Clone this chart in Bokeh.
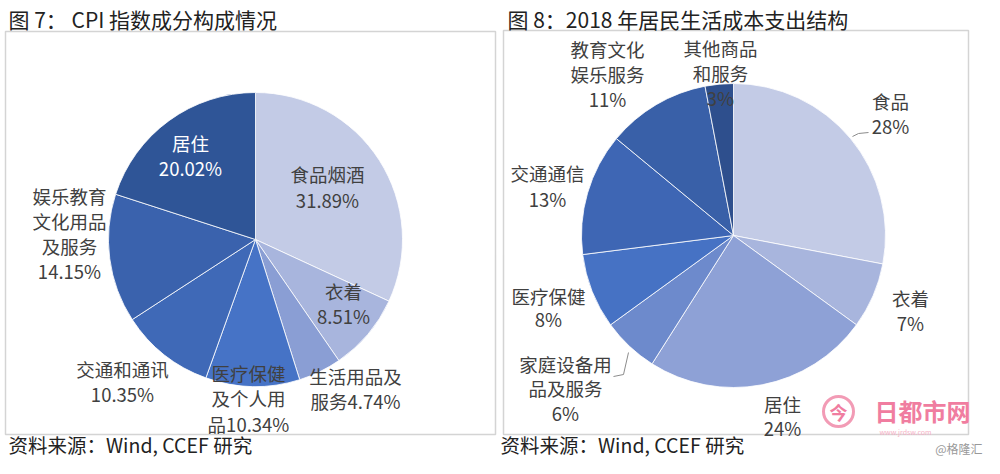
import math
from bokeh.plotting import figure
from bokeh.models import Range1d
from bokeh.core.properties import value
from bokeh.embed import file_html
from bokeh.resources import INLINE

# ---------------- data ----------------
cpi_names = ["食品烟酒", "衣着", "生活用品及服务", "医疗保健及个人用品",
             "交通和通讯", "娱乐教育文化用品及服务", "居住"]
cpi_values = [31.89, 8.51, 4.74, 10.34, 10.35, 14.15, 20.02]

cost_names = ["食品", "衣着", "居住", "家庭设备用品及服务", "医疗保健",
              "交通通信", "教育文化娱乐服务", "其他商品和服务"]
cost_values = [28, 7, 24, 6, 8, 13, 11, 3]

title_left = "图 7：   CPI 指数成分构成情况"
title_right = "图 8：2018 年居民生活成本支出结构"
source_text = "资料来源：Wind, CCEF 研究"

# ---------------- styling / layout ----------------
cpi_colors = ["#c3cbe6", "#a8b5dd", "#8a9ed4", "#4673c6", "#3f69b7", "#3a62ad", "#2f5597"]
cost_colors = ["#c3cbe6", "#a8b5dd", "#8ea1d6", "#6d8acc", "#4672c4", "#3e66b4", "#3960a8", "#2e4f8d"]

FONT = value("Noto Sans CJK SC")
H = 474


def Y(y):
    return H - y


p = figure(width=984, height=458, x_range=Range1d(0, 984), y_range=Range1d(16, 474),
           output_backend="svg", toolbar_location=None, min_border=0)
p.axis.visible = False
p.grid.visible = False
p.outline_line_color = None
p.background_fill_color = "white"

# frames
p.quad(left=[5, 503], right=[495, 968], top=[Y(31), Y(30)], bottom=[Y(434), Y(434)],
       fill_alpha=0, line_color="#d4d4d4", line_width=1.5)


def pie(cx, cy, r, vals, colors):
    total = float(sum(vals))
    starts, ends = [], []
    cum = 0.0
    for v in vals:
        starts.append(math.pi / 2 - 2 * math.pi * cum / total)
        cum += v
        ends.append(math.pi / 2 - 2 * math.pi * cum / total)
    p.wedge(x=[cx] * len(vals), y=[Y(cy)] * len(vals), radius=r,
            start_angle=starts, end_angle=ends, direction="clock",
            fill_color=colors, line_color="white", line_width=0.8)


pie(255, 239, 147, cpi_values, cpi_colors)
pie(733, 235, 152, cost_values, cost_colors)

# leader lines
p.line(x=[852, 858, 868], y=[Y(136), Y(133), Y(132)], line_color="#8c8c8c", line_width=1)
p.line(x=[613, 623, 628], y=[Y(376), Y(374), Y(352)], line_color="#8c8c8c", line_width=1)

# labels: (x, first-line y, line templates, spacing, colour)
cpi_layout = [
    (327, 173, ["食品烟酒", "{p}"], 26, "#404040"),
    (343, 290, ["衣着", "{p}"], 25, "#404040"),
    (355, 375, ["生活用品及", "服务{p}"], 25, "#404040"),
    (248, 372, ["医疗保健", "及个人用", "品{p}"], 25.5, "#404040"),
    (122, 368, ["交通和通讯", "{p}"], 25, "#404040"),
    (69, 195, ["娱乐教育", "文化用品", "及服务", "{p}"], 25, "#404040"),
    (190, 142, ["居住", "{p}"], 25, "white"),
]
cost_layout = [
    (890, 100, ["食品", "{p}"], 25, "#404040"),
    (910, 297, ["衣着", "{p}"], 25, "#404040"),
    (782, 403, ["居住", "{p}"], 24, "#404040"),
    (565, 363, ["家庭设备用", "品及服务", "{p}"], 24.5, "#404040"),
    (548, 295, ["医疗保健", "{p}"], 23, "#404040"),
    (547, 172, ["交通通信", "{p}"], 26, "#404040"),
    (607, 48, ["教育文化", "娱乐服务", "{p}"], 25, "#404040"),
    (720, 47, ["其他商品", "和服务", "{p}"], 25, "#404040"),
]


def draw_labels(layout, vals, fmt):
    xs, ys, ts, cs = [], [], [], []
    for (x, y0, lines, sp, col), v in zip(layout, vals):
        for i, ln in enumerate(lines):
            xs.append(x)
            ys.append(Y(y0 + i * sp))
            ts.append(ln.replace("{p}", fmt(v)))
            cs.append(col)
    p.text(x=xs, y=ys, text=ts, text_color=cs, text_font=FONT, text_font_size="18.5px",
           text_align="center", text_baseline="middle")


draw_labels(cpi_layout, cpi_values, lambda v: f"{v:.2f}%")
draw_labels(cost_layout, cost_values, lambda v: f"{int(v)}%")

# titles and sources
p.text(x=[8, 507], y=[Y(18), Y(18)], text=[title_left, title_right], text_font=FONT,
       text_font_size="21px", text_color="#222222", text_align="left", text_baseline="middle")
p.text(x=[8, 500], y=[Y(444), Y(444)], text=[source_text, source_text], text_font=FONT,
       text_font_size="19.5px", text_color="#222222", text_align="left", text_baseline="middle")

# watermark
p.circle(x=[838], y=[Y(411)], radius=15, fill_color="white", line_color="#f29bb5", line_width=3)
p.text(x=[838], y=[Y(411)], text=["今"], text_font=FONT, text_font_size="18px",
       text_color="#f07da0", text_align="center", text_baseline="middle", text_font_style="bold")
p.text(x=[922], y=[Y(410)], text=["日都市网"], text_font=FONT, text_font_size="24px",
       text_color="#f07da0", text_align="center", text_baseline="middle", text_font_style="bold")
p.text(x=[905], y=[Y(431)], text=["www.jrdsw.com"], text_font=FONT, text_font_size="7px",
       text_color="#f5b0c5", text_align="center", text_baseline="middle")
p.text(x=[982], y=[Y(448)], text=["@格隆汇"], text_font=FONT, text_font_size="12px",
       text_color="#999999", text_align="right", text_baseline="middle")

open("out.html", "w").write(file_html(p, INLINE))
